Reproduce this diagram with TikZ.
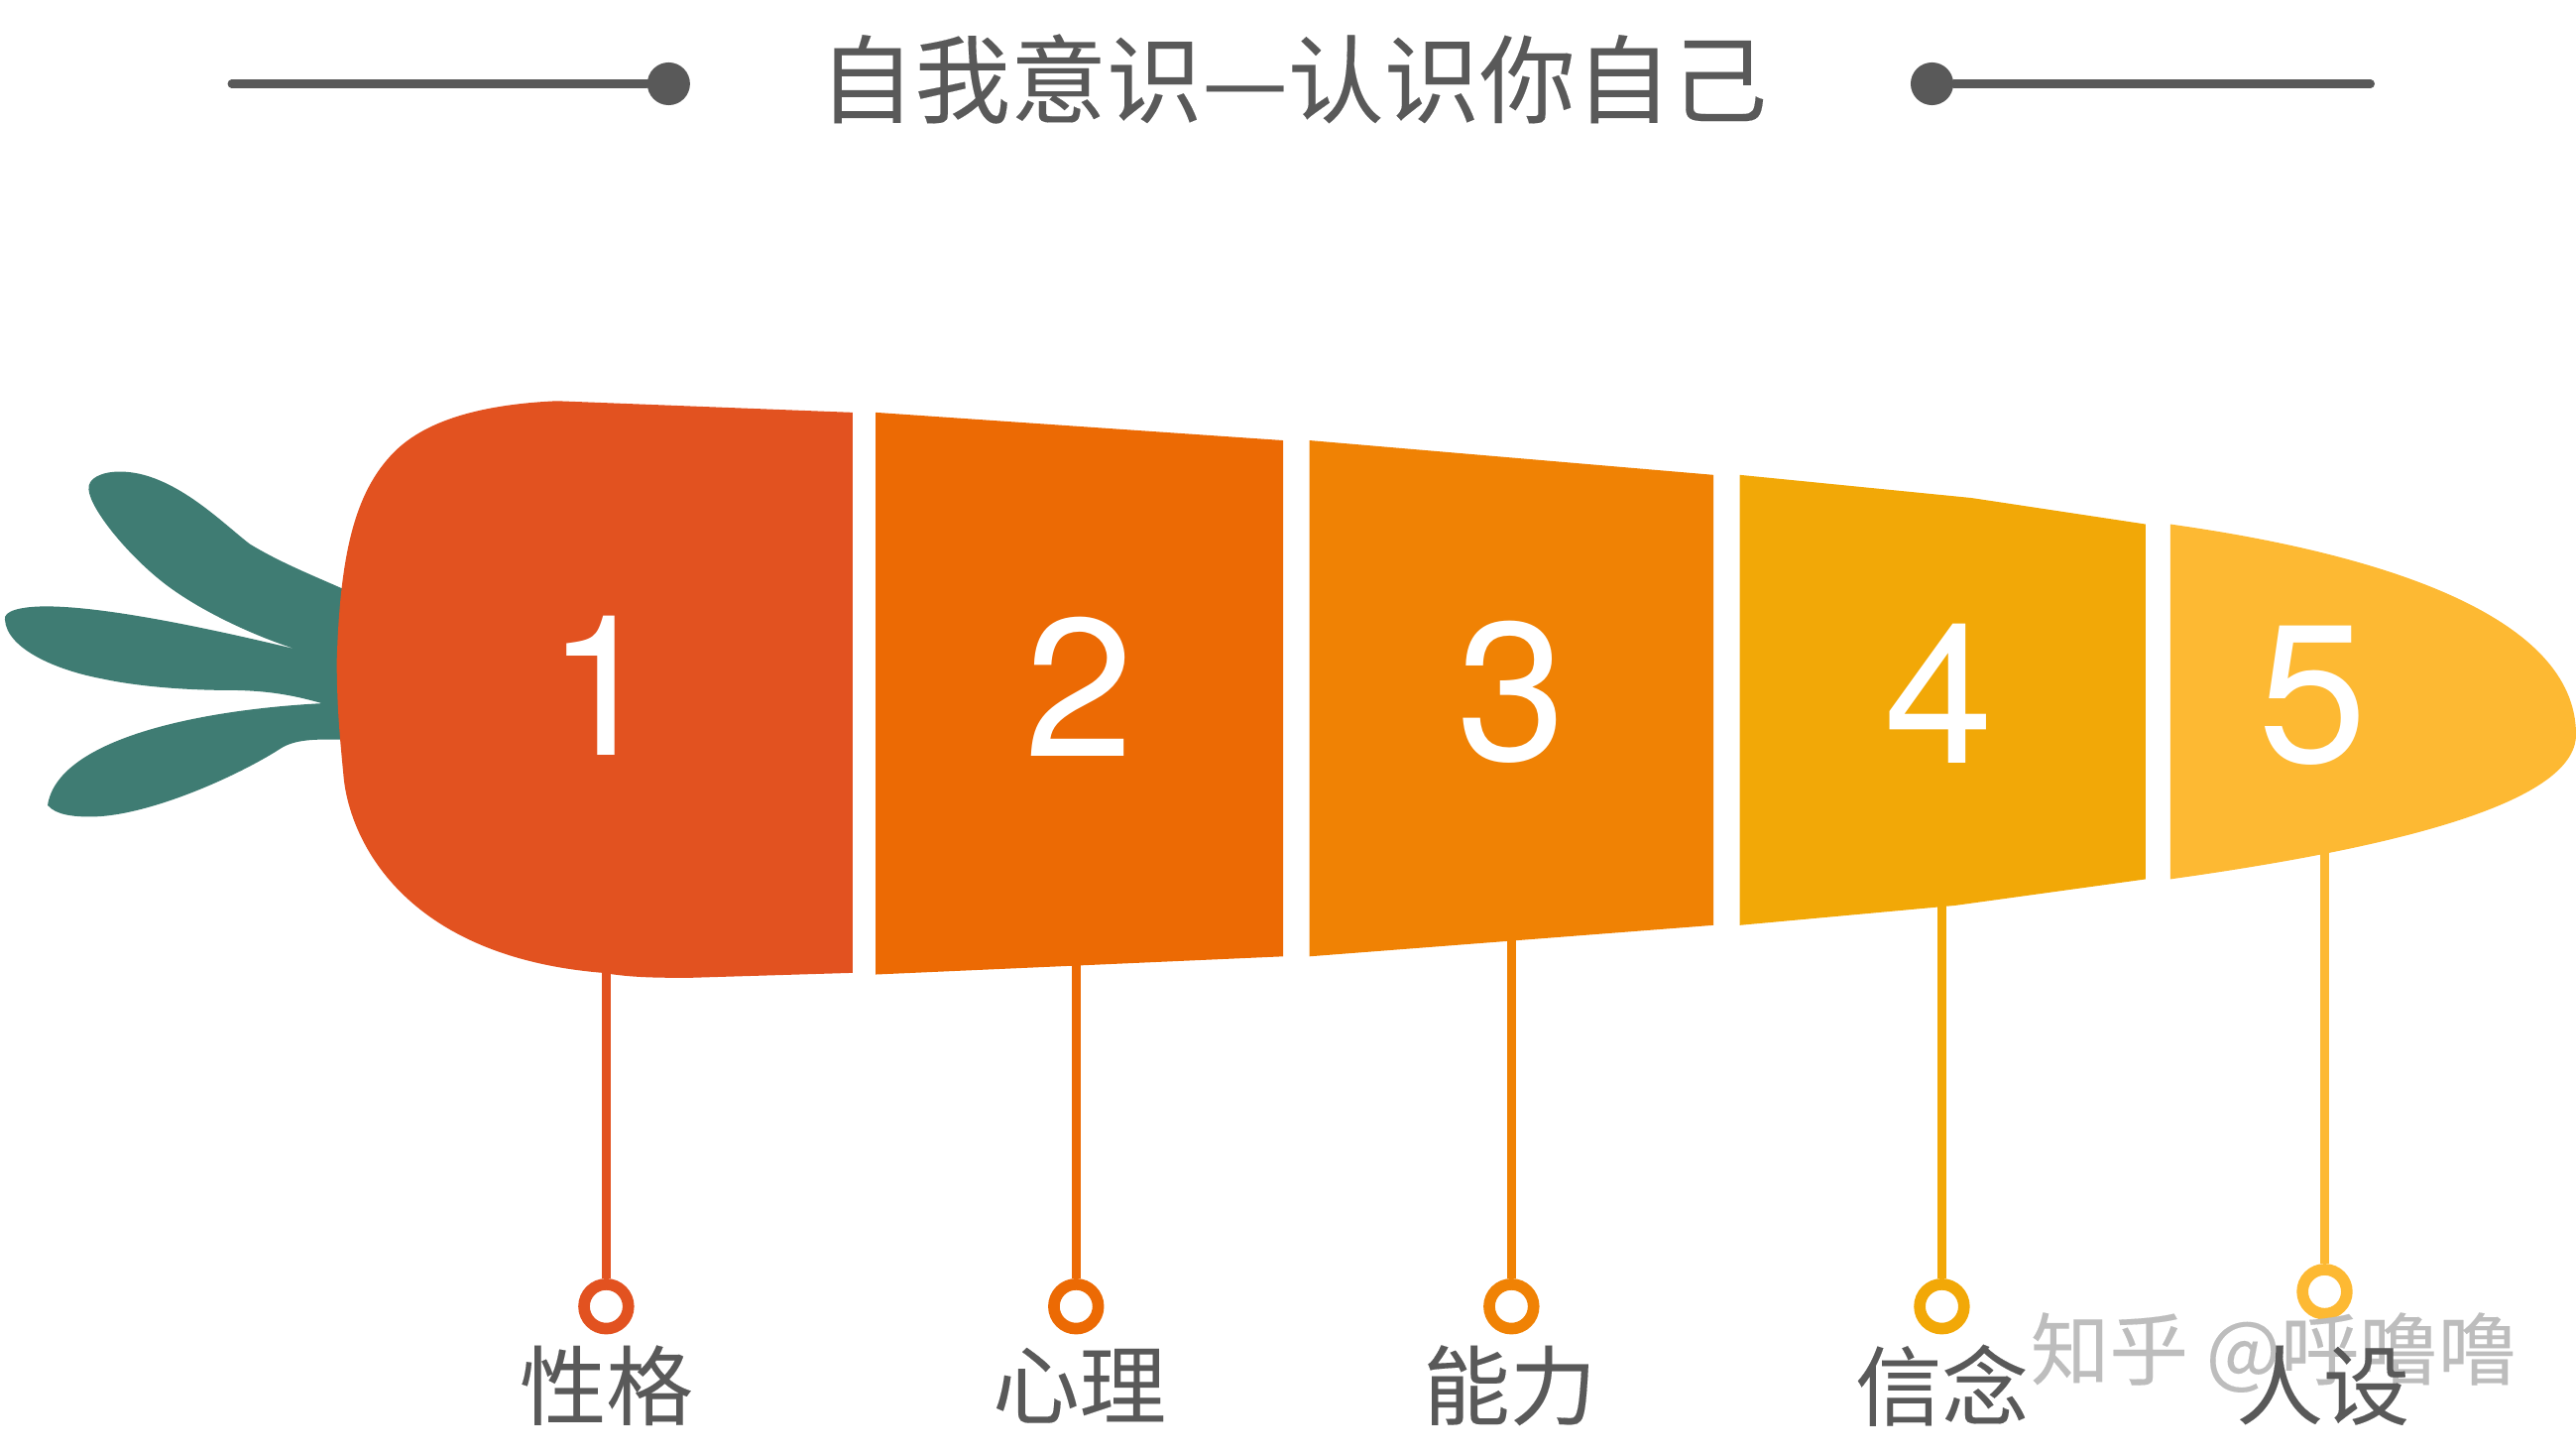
\documentclass[tikz,border=0pt]{standalone}
\usepackage{fontspec}
\setmainfont{TeX Gyre Heros}
\newfontfamily\cjk[FakeBold=0.15]{Noto Sans CJK SC}
\definecolor{leafteal}{HTML}{3F7C73}
\definecolor{textgray}{HTML}{595959}
\definecolor{markgray}{HTML}{BDBDBD}
\definecolor{segone}{HTML}{E25220}
\definecolor{segtwo}{HTML}{EC6A04}
\definecolor{segthree}{HTML}{F08204}
\definecolor{segfour}{HTML}{F2A807}
\definecolor{segfive}{HTML}{FDB933}

\begin{document}
\begin{tikzpicture}[x=0.2mm,y=0.2mm]
\tikzstyle{every node}+=[inner sep=0pt]
\tikzstyle{titletext}=[text=textgray,font=\cjk\fontsize{33.2}{33.2}\selectfont]
\tikzstyle{labeltext}=[text=textgray,font=\cjk\fontsize{30}{30}\selectfont]
\tikzstyle{marktext}=[text=markgray,font=\cjk\fontsize{27.3}{27.3}\selectfont]
\tikzstyle{digit}=[text=white,font=\fontsize{68}{68}\selectfont]
\tikzstyle{dot}=[circle,fill=textgray,minimum size=0.52cm]
\tikzstyle{rule}=[draw=textgray,line width=2.8pt,line cap=round]
\tikzstyle{ring}=[circle,fill=white,line width=4pt,minimum size=0.54cm]
\tikzstyle{stem}=[line width=3.2pt]
\useasboundingbox (0,0) rectangle (1568,-885);
% heading
\node [titletext] (title) at (787,-48) {自我意识—认识你自己};
\node [dot] (dotl) at (407,-51) {};
\node [dot] (dotr) at (1176,-51) {};
\coordinate (rulel) at (141,-51);
\coordinate (ruler) at (1443,-51);
\draw [rule] (rulel) -- (dotl);
\draw [rule] (dotr) -- (ruler);
% leaves
\fill [leafteal] (212,-360) -- (208,-358) .. controls (190,-350) and (170,-342) .. (152,-331)
  .. controls (135,-318) and (105,-287) .. (73,-287)
  .. controls (62,-287) and (53,-291) .. (54,-298)
  .. controls (55,-310) and (78,-338) .. (100,-355)
  .. controls (122,-372) and (155,-387) .. (180,-395)
  .. controls (130,-383) and (65,-369) .. (28,-369)
  .. controls (12,-369) and (2,-372) .. (3,-377)
  .. controls (4,-395) and (35,-408) .. (62,-413)
  .. controls (85,-418) and (115,-420) .. (139,-420)
  .. controls (165,-420) and (182,-424) .. (196,-428)
  .. controls (120,-432) and (35,-450) .. (29,-490)
  .. controls (34,-496) and (45,-497) .. (55,-497)
  .. controls (90,-497) and (145,-472) .. (170,-456)
  .. controls (180,-449) and (195,-450) .. (212,-450) -- cycle;
% carrot body
\fill [segone] (519,-251) -- (339,-244) .. controls (295,-246) and (260,-255) .. (240,-275)
  .. controls (215,-300) and (207,-340) .. (205,-402)
  .. controls (205,-430) and (207,-450) .. (209,-471)
  .. controls (212,-510) and (245,-582) .. (367,-592)
  .. controls (385,-595) and (400,-595) .. (420,-595) -- (519,-592) -- cycle;
\fill [segtwo] (533,-251) -- (781,-268) -- (781,-582) -- (533,-593) -- cycle;
\fill [segthree] (797,-268) -- (1043,-289) -- (1043,-563) -- (797,-582) -- cycle;
\fill [segfour] (1059,-289) -- (1200,-303) -- (1306,-319) -- (1306,-535) -- (1190,-551) -- (1059,-563) -- cycle;
\fill [segfive] (1321,-319) .. controls (1450,-337) and (1568,-375) .. (1568,-447)
  .. controls (1568,-490) and (1450,-517) .. (1321,-535) -- cycle;
% digits
\node [digit] (one) at (366,-417) {1};
\node [digit] (two) at (657,-418) {2};
\node [digit] (three) at (920,-421) {3};
\node [digit] (four) at (1180,-422) {4};
\node [digit] (five) at (1408,-423) {5};
% rings and stems
\node [ring,draw=segone] (ringone) at (369,-795) {};
\node [ring,draw=segtwo] (ringtwo) at (655,-795) {};
\node [ring,draw=segthree] (ringthree) at (920,-795) {};
\node [ring,draw=segfour] (ringfour) at (1182,-795) {};
\node [ring,draw=segfive] (ringfive) at (1415,-786) {};
\coordinate (footone) at (369,-590);
\coordinate (foottwo) at (655,-586);
\coordinate (footthree) at (920,-572);
\coordinate (footfour) at (1182,-550);
\coordinate (footfive) at (1415,-516);
\draw [stem,segone] (footone) -- (ringone);
\draw [stem,segtwo] (foottwo) -- (ringtwo);
\draw [stem,segthree] (footthree) -- (ringthree);
\draw [stem,segfour] (footfour) -- (ringfour);
\draw [stem,segfive] (footfive) -- (ringfive);
% labels
\node [marktext] (mark) at (1384,-823) {知乎 @呼噜噜};
\node [labeltext] (lone) at (369,-843) {性格};
\node [labeltext] (ltwo) at (657,-843) {心理};
\node [labeltext] (lthree) at (919,-843) {能力};
\node [labeltext] (lfour) at (1182,-843) {信念};
\node [labeltext] (lfive) at (1414,-843) {人设};
\end{tikzpicture}
\end{document}
